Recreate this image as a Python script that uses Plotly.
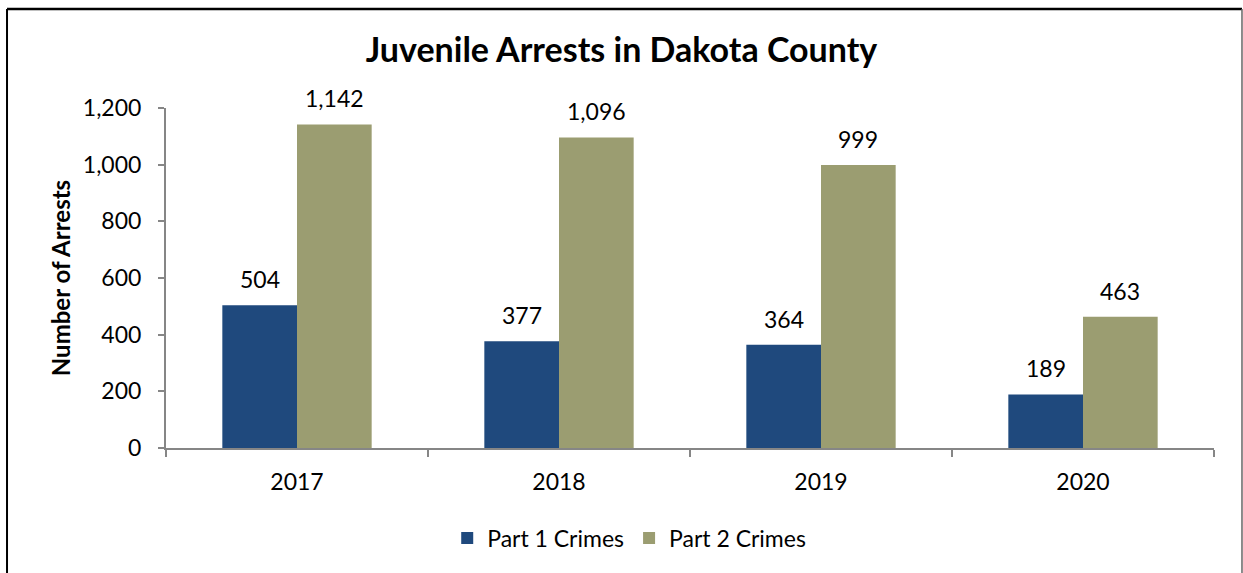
import plotly.graph_objects as go

years = ["2017", "2018", "2019", "2020"]
part1 = [504, 377, 364, 189]
part2 = [1142, 1096, 999, 463]
series_names = ["Part 1 Crimes", "Part 2 Crimes"]
y_ticks = [0, 200, 400, 600, 800, 1000, 1200]

FONT = "Lato, Carlito, Calibri, sans-serif"
BLUE = "#1F497D"
OLIVE = "#9B9D71"
AXIS = "#868686"
BARGAP = 0.43
TXT = 23

fig = go.Figure()
fig.add_trace(go.Bar(x=years, y=part1, name=series_names[0],
                     marker=dict(color=BLUE, line=dict(width=0))))
fig.add_trace(go.Bar(x=years, y=part2, name=series_names[1],
                     marker=dict(color=OLIVE, line=dict(width=0))))

# value labels above each bar
half = (1 - BARGAP) / 4
annotations = []
for i, (a, b) in enumerate(zip(part1, part2)):
    for off, v in ((-half, a), (half, b)):
        annotations.append(dict(x=i + off, y=v, xref="x", yref="y",
                                text=f"{v:,}", showarrow=False,
                                yanchor="bottom", yshift=10,
                                font=dict(family=FONT, size=TXT, color="#000")))

# outer frame of the chart
shapes = [
    dict(type="line", xref="paper", yref="paper", x0=-0.1517, x1=1.0267,
         y0=1.291, y1=1.291, line=dict(color="#000", width=2.5)),
    dict(type="line", xref="paper", yref="paper", x0=-0.1517, x1=-0.1517,
         y0=1.291, y1=-0.5, line=dict(color="#000", width=2)),
    dict(type="line", xref="paper", yref="paper", x0=1.0267, x1=1.0267,
         y0=1.291, y1=-0.5, line=dict(color="#666", width=1.5)),
]

fig.update_layout(
    width=1243, height=573,
    margin=dict(l=166, r=29, t=108, b=125),
    paper_bgcolor="white", plot_bgcolor="white",
    barmode="group", bargap=BARGAP, bargroupgap=0,
    font=dict(family=FONT, size=TXT, color="#000"),
    title=dict(text="<b>Juvenile Arrests in Dakota County</b>",
               x=0.5, xanchor="center", y=0.912, yanchor="middle",
               font=dict(family=FONT, size=34, color="#000")),
    xaxis=dict(showline=True, linecolor=AXIS, linewidth=2,
               ticks="outside", tickson="boundaries", ticklen=7,
               tickcolor=AXIS, tickwidth=2, showgrid=False,
               ticklabelstandoff=12,
               tickfont=dict(size=TXT)),
    yaxis=dict(range=[0, 1200], tickvals=y_ticks,
               ticktext=[f"{v:,}" for v in y_ticks],
               showline=True, linecolor=AXIS, linewidth=2,
               ticks="outside", ticklen=6, tickcolor=AXIS, tickwidth=2,
               showgrid=False, zeroline=False,
               ticklabelstandoff=12,
               tickfont=dict(size=TXT),
               title=dict(text="<b>Number of Arrests</b>", standoff=5,
                          font=dict(size=24))),
    legend=dict(orientation="h", x=0.442, xanchor="center",
                y=-0.265, yanchor="middle", font=dict(size=TXT),
                itemwidth=30, traceorder="normal"),
    annotations=annotations,
    shapes=shapes,
)

fig.write_html("out.html")
